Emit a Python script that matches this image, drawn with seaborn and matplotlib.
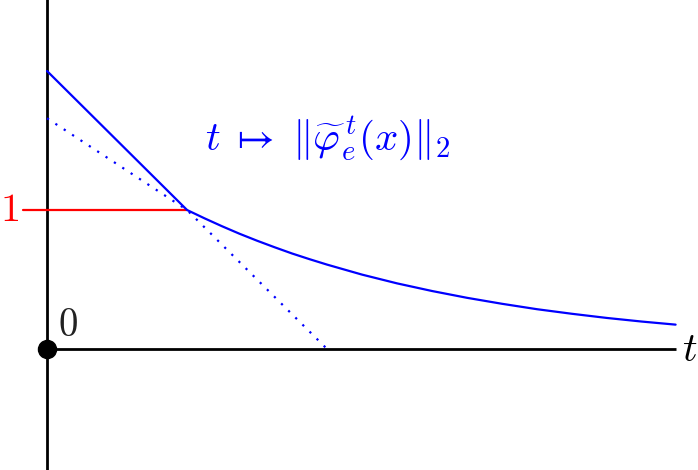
import matplotlib
matplotlib.use("Agg")
import matplotlib.pyplot as plt
import seaborn as sns
import pandas as pd

# Values (unit = the level "1")
norm_t = [0.0, 1.0, 1.125, 1.25, 1.375, 1.5, 1.625, 1.75, 1.875, 2.0, 2.25, 2.5, 2.75,
          3.0, 3.25, 3.5, 3.75, 4.0, 4.25, 4.49]
norm_y = [2.0, 1.0, 0.94, 0.883, 0.829, 0.779, 0.732, 0.687, 0.646, 0.607, 0.535, 0.472,
          0.417, 0.368, 0.325, 0.286, 0.253, 0.223, 0.197, 0.175]

bound_t = [0.0, 1.0, 2.0]
bound_y = [1.66, 1.0, 0.0]

level_t = [-0.17, 1.0]
level_y = [1.0, 1.0]

sns.set_style("white")
plt.rcParams["mathtext.fontset"] = "cm"

fig = plt.figure(figsize=(6.98, 4.7), dpi=100)
ax = fig.add_axes([0, 0, 1, 1])

# axes
ax.plot([0, 0], [-0.87, 2.52], color="black", lw=2.0, solid_capstyle="butt")
ax.plot([0, 4.49], [0, 0], color="black", lw=2.0, solid_capstyle="butt")

norm_df = pd.DataFrame({"t": norm_t, "y": norm_y})
bound_df = pd.DataFrame({"t": bound_t, "y": bound_y})
level_df = pd.DataFrame({"t": level_t, "y": level_y})

sns.lineplot(data=level_df, x="t", y="y", color="red", lw=1.6, sort=False, estimator=None, ax=ax)
sns.lineplot(data=bound_df, x="t", y="y", color="blue", lw=1.6, ls=(0, (1, 3.5)),
             sort=False, estimator=None, ax=ax)
sns.lineplot(data=norm_df, x="t", y="y", color="blue", lw=1.6, sort=False, estimator=None, ax=ax)

ax.plot([0], [0], "o", color="black", ms=13, zorder=5)

ax.text(-0.27, 1.0, r"$1$", color="red", fontsize=29, ha="center", va="center")
ax.text(0.08, 0.17, r"$0$", color="#222222", fontsize=28, ha="left", va="center")
ax.text(4.59, -0.01, r"$t$", color="black", fontsize=29, ha="center", va="center")
ax.text(1.13, 1.51, r"$t \;\mapsto\; \Vert\widetilde{\varphi}_e^{\,t}(x)\Vert_2$", color="blue",
        fontsize=29.5, ha="left", va="center")

ax.set_xlim(-0.336, 4.65)
ax.set_ylim(-0.871, 2.511)
ax.axis("off")

fig.savefig("out.png", dpi=100)
